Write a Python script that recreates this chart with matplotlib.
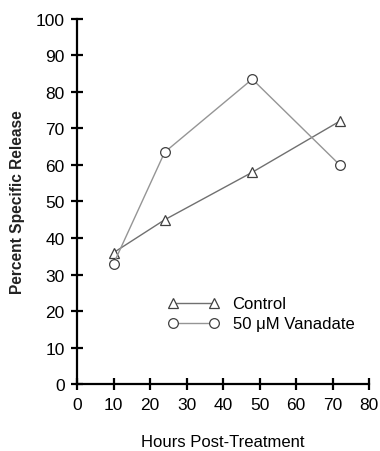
import matplotlib
matplotlib.use("Agg")
import matplotlib.pyplot as plt

hours = [10, 24, 48, 72]
control = [36, 45, 58, 72]
vanadate = [33, 63.5, 83.5, 60]

plt.rcParams["font.family"] = ["Liberation Sans", "DejaVu Sans"]

fig = plt.figure(figsize=(3.8, 4.52), dpi=100)
ax = fig.add_axes([0.203, 0.148, 0.768, 0.808])

line_col = "#707070"
edge_col = "#404040"
ax.plot(hours, control, color=line_col, linewidth=1.0, marker="^", markersize=7,
        markerfacecolor="white", markeredgecolor=edge_col, markeredgewidth=0.9,
        label="Control")
ax.plot(hours, vanadate, color="#959595", linewidth=1.0, marker="o", markersize=7,
        markerfacecolor="white", markeredgecolor=edge_col, markeredgewidth=0.9,
        label="50 \u03bcM Vanadate")

ax.set_xlim(0, 80)
ax.set_ylim(0, 100)
ax.set_xticks(range(0, 81, 10))
ax.set_yticks(range(0, 101, 10))
for s in ["top", "right"]:
    ax.spines[s].set_visible(False)
for s in ["left", "bottom"]:
    ax.spines[s].set_linewidth(1.6)
    ax.spines[s].set_color("black")
ax.tick_params(direction="inout", length=8, width=1.6, labelsize=12.5, pad=5)

ax.set_xlabel("Hours Post-Treatment", fontsize=12, labelpad=16)
ax.set_ylabel("Percent Specific Release", fontsize=11.2, fontweight="bold",
              labelpad=8, color="#222222")

ax.legend(loc="upper left", bbox_to_anchor=(0.31, 0.24), frameon=False,
          fontsize=12, numpoints=2, handlelength=3.1, handletextpad=0.8,
          labelspacing=0.3, borderpad=0, borderaxespad=0)

fig.savefig("out.png", dpi=100)
